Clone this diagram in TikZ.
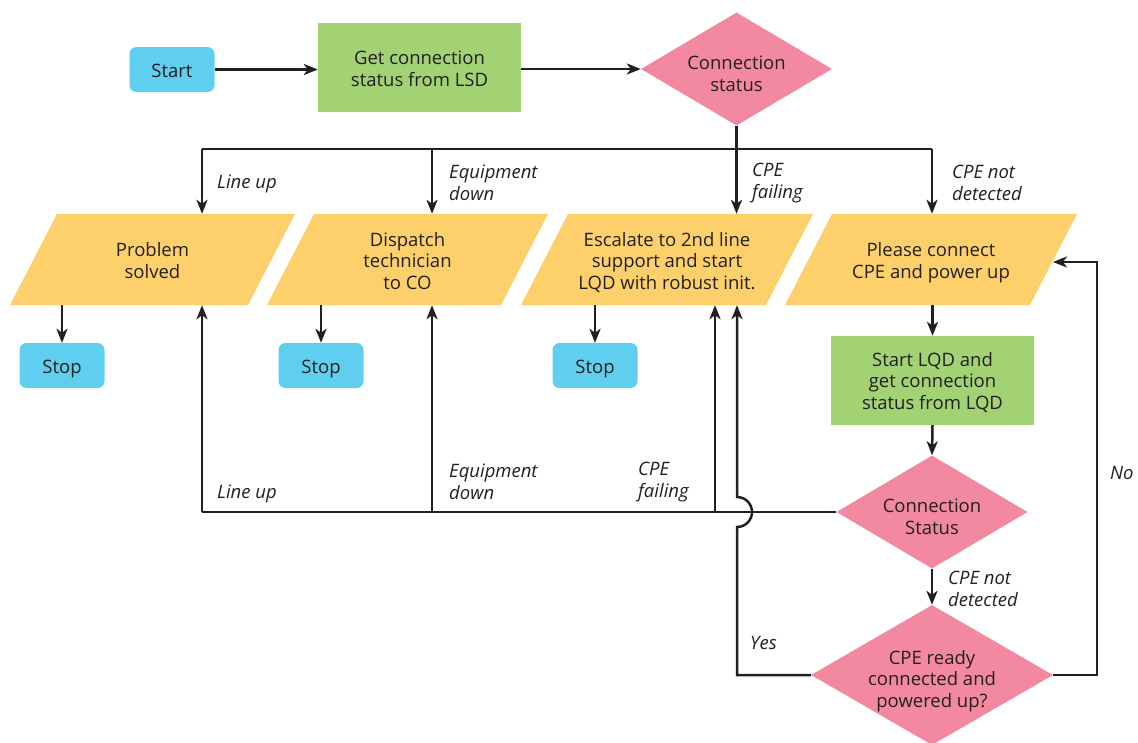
\documentclass[tikz,border=0pt]{standalone}
\usepackage{fontspec}
\setmainfont{Open Sans}
\usetikzlibrary{shapes.geometric,arrows.meta,calc}
\definecolor{cblue}{RGB}{96,206,238}
\definecolor{cgreen}{RGB}{163,210,116}
\definecolor{cpink}{RGB}{243,137,160}
\definecolor{cyellow}{RGB}{254,208,107}
\definecolor{cink}{RGB}{35,31,32}
\newcommand\dfont{\fontsize{18.5}{21.7}\selectfont}
\newcommand\tx[2][8pt]{\raisebox{0pt}[\dimexpr\height+#1\relax][\depth]{\begin{tabular}{@{}c@{}}#2\end{tabular}}}
\begin{document}
\begin{tikzpicture}[x=1pt,y=-1pt,
  every node/.style={font=\dfont, text=cink},
  term/.style={rectangle, rounded corners=7pt, fill=cblue, minimum width=85pt, minimum height=45pt, inner sep=0pt},
  proc/.style={rectangle, fill=cgreen, minimum width=203pt, minimum height=89pt, inner sep=0pt},
  dec/.style={diamond, fill=cpink, minimum width=191pt, minimum height=113pt, aspect=1.69, inner sep=-10pt},
  io/.style={rectangle, minimum width=280pt, minimum height=91pt, inner sep=0pt},
  lbl/.style={font=\dfont\itshape, anchor=west, align=left, inner sep=0pt},
  conn/.style={line width=2.5pt, draw=cink, -{Stealth[length=14pt,width=11pt,inset=4pt]}},
  wire/.style={line width=2.5pt, draw=cink},
  pics/para/.style={code={\fill[cyellow] ({-#1/2+47},-45.5) -- ({#1/2},-45.5) -- ({#1/2-47},45.5) -- ({-#1/2},45.5) -- cycle;}}
]
\useasboundingbox (0,0) rectangle (1138,742);

% parallelogram backgrounds
\pic at (152.5,259.5) {para=285};
\pic at (407.5,259.5) {para=281};
\pic at (667,259.5) {para=292};
\pic at (931,259.5) {para=292};

% nodes
\node[term] (start) at (172,69.5) {\tx{Start}};
\node[proc] (lsd) at (419.5,67.5) {\tx{Get connection\\status from LSD}};
\node[dec] (cs1) at (736.5,69) {\tx[14pt]{Connection\\status}};

\node[io] (p1) at (152.5,259.5) {\tx{Problem\\solved}};
\node[io] (p2) at (407.5,259.5) {\tx{Dispatch\\technician\\to CO}};
\node[io] (p3) at (667,259.5) {\tx{Escalate to 2nd line\\support and start\\LQD with robust init.}};
\node[io] (p4) at (931,259.5) {\tx{Please connect\\CPE and power up}};

\node[term] (stop1) at (62,365.5) {\tx{Stop}};
\node[term] (stop2) at (321,365.5) {\tx{Stop}};
\node[term] (stop3) at (595,365.5) {\tx{Stop}};

\node[proc] (lqd) at (932.5,380.5) {\tx[6pt]{Start LQD and\\get connection\\status from LQD}};
\node[dec] (cs2) at (932,512) {\tx[14pt]{Connection\\Status}};
\node[dec, minimum width=242pt, minimum height=140pt, aspect=1.73] (rdy) at (932,675) {\tx[13pt]{CPE ready\\connected and\\powered up?}};

% coordinates
\coordinate (tb1) at (202,149);
\coordinate (tb2) at (432,149);
\coordinate (tb3) at (736.5,149);
\coordinate (tb4) at (932,149);
\coordinate (bb1) at (202,512);
\coordinate (bb2) at (432,512);
\coordinate (bb3) at (715,512);
\coordinate (yl) at (737,675);
\coordinate (nr) at (1097,675);
\coordinate (nt) at (1097,262);
\coordinate (p4r) at (1053,262);

% top flow
\draw[conn] (start.east) -- (lsd.west |- start.east);
\draw[conn] (lsd.east |- cs1.west) -- (cs1.west);
\draw[wire] (cs1.south) -- (tb3);
\draw[wire] (tb1) -- (tb4);
\draw[conn] (tb1) -- (tb1 |- p1.north);
\draw[conn] (tb2) -- (tb2 |- p2.north);
\draw[conn] (tb3) -- (tb3 |- p3.north);
\draw[conn] (tb4) -- (tb4 |- p4.north);

% to stops
\draw[conn] (stop1.north |- p1.south) -- (stop1.north);
\draw[conn] (stop2.north |- p2.south) -- (stop2.north);
\draw[conn] (stop3.north |- p3.south) -- (stop3.north);

% right column
\draw[conn] (lqd.north |- p4.south) -- (lqd.north);
\draw[conn] (lqd.south) -- (cs2.north);
\draw[conn] (cs2.south) -- (rdy.north);

% bottom bus
\draw[wire] (cs2.west) -- (bb1);
\draw[conn] (bb1) -- (bb1 |- p1.south);
\draw[conn] (bb2) -- (bb2 |- p2.south);
\draw[conn] (bb3) -- (bb3 |- p3.south);

% yes loop with hop
\draw[conn] (rdy.west) -- (yl) -- (737,527)
  .. controls (745.3,527) and (752,520.3) .. (752,512)
  .. controls (752,503.7) and (745.3,497) .. (737,497)
  -- (yl |- p3.south);

% no loop
\draw[conn] (rdy.east) -- (nr) -- (nt) -- (p4r);

% labels
\node[lbl] (l1) at (217,184) {Line up};
\node[lbl] (l2) at (449,183) {Equipment\\down};
\node[lbl] (l3) at (752,183) {CPE\\failing};
\node[lbl] (l4) at (952,183) {CPE not\\detected};
\node[lbl] (l5) at (217,494) {Line up};
\node[lbl] (l6) at (449,482) {Equipment\\down};
\node[lbl] (l7) at (638,482) {CPE\\failing};
\node[lbl] (l8) at (948,589) {CPE not\\detected};
\node[lbl] (l9) at (750,643) {Yes};
\node[lbl] (l10) at (1110,473) {No};
\end{tikzpicture}
\end{document}
